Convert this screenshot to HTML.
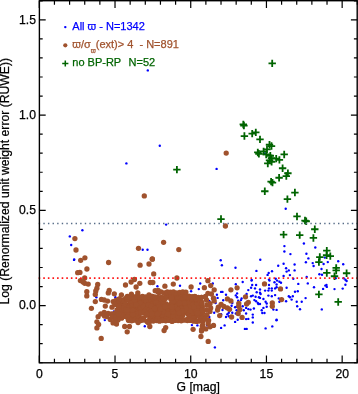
<!DOCTYPE html>
<html lang="en">
<head>
<meta charset="utf-8">
<title>RUWE vs G magnitude</title>
<style>
html,body{margin:0;padding:0;background:#fff}
svg{display:block;will-change:transform}
text{font-family:"Liberation Sans",Arial,sans-serif;font-size:12.2px;fill:#000;stroke:#000;stroke-width:0.25px}
</style>
</head>
<body>
<svg width="358" height="394" viewBox="0 0 358 394">
<rect width="358" height="394" fill="#fff"/>
<g fill="#0000ff"><circle cx="216.6" cy="168.9" r="1.2"/><circle cx="147.8" cy="70.4" r="1.2"/><circle cx="159.8" cy="145.8" r="1.2"/><circle cx="126.4" cy="163.4" r="1.2"/><circle cx="166.1" cy="224.6" r="1.2"/><circle cx="285.7" cy="208.7" r="1.2"/><circle cx="264.8" cy="153.4" r="1.2"/><circle cx="303.9" cy="243.5" r="1.2"/><circle cx="315.3" cy="247.5" r="1.2"/><circle cx="306.4" cy="253.7" r="1.2"/><circle cx="308.4" cy="258.4" r="1.2"/><circle cx="305.9" cy="262.3" r="1.2"/><circle cx="312.7" cy="263.1" r="1.2"/><circle cx="313.6" cy="266.0" r="1.2"/><circle cx="323.6" cy="264.0" r="1.2"/><circle cx="327.8" cy="262.1" r="1.2"/><circle cx="324.8" cy="257.6" r="1.2"/><circle cx="338.2" cy="261.3" r="1.2"/><circle cx="343.2" cy="264.3" r="1.2"/><circle cx="321.5" cy="269.0" r="1.2"/><circle cx="319.4" cy="274.3" r="1.2"/><circle cx="322.0" cy="274.7" r="1.2"/><circle cx="306.7" cy="276.9" r="1.2"/><circle cx="323.1" cy="288.9" r="1.2"/><circle cx="325.3" cy="285.6" r="1.2"/><circle cx="326.5" cy="284.9" r="1.2"/><circle cx="326.8" cy="286.9" r="1.2"/><circle cx="334.5" cy="289.1" r="1.2"/><circle cx="342.7" cy="288.6" r="1.2"/><circle cx="345.4" cy="284.7" r="1.2"/><circle cx="346.6" cy="281.0" r="1.2"/><circle cx="345.4" cy="279.7" r="1.2"/><circle cx="343.6" cy="278.2" r="1.2"/><circle cx="335.7" cy="278.2" r="1.2"/><circle cx="321.8" cy="309.4" r="1.2"/><circle cx="284.4" cy="246.1" r="1.2"/><circle cx="284.4" cy="251.5" r="1.2"/><circle cx="290.4" cy="254.1" r="1.2"/><circle cx="260.3" cy="259.8" r="1.2"/><circle cx="283.6" cy="263.7" r="1.2"/><circle cx="278.2" cy="265.7" r="1.2"/><circle cx="294.6" cy="264.5" r="1.2"/><circle cx="286.1" cy="268.2" r="1.2"/><circle cx="294.6" cy="270.4" r="1.2"/><circle cx="288.8" cy="270.4" r="1.2"/><circle cx="286.6" cy="271.6" r="1.2"/><circle cx="256.4" cy="270.9" r="1.2"/><circle cx="272.0" cy="271.2" r="1.2"/><circle cx="268.7" cy="272.9" r="1.2"/><circle cx="267.6" cy="274.9" r="1.2"/><circle cx="289.9" cy="275.1" r="1.2"/><circle cx="283.6" cy="275.9" r="1.2"/><circle cx="293.3" cy="278.8" r="1.2"/><circle cx="275.7" cy="278.8" r="1.2"/><circle cx="269.0" cy="279.6" r="1.2"/><circle cx="251.7" cy="279.9" r="1.2"/><circle cx="272.3" cy="326.4" r="1.2"/><circle cx="265.6" cy="328.4" r="1.2"/><circle cx="246.7" cy="328.9" r="1.2"/><circle cx="220.7" cy="260.2" r="1.2"/><circle cx="221.9" cy="265.2" r="1.2"/><circle cx="235.5" cy="267.7" r="1.2"/><circle cx="180.0" cy="285.8" r="1.2"/><circle cx="183.9" cy="291.2" r="1.2"/><circle cx="191.1" cy="291.2" r="1.2"/><circle cx="214.9" cy="347.4" r="1.2"/><circle cx="191.9" cy="325.1" r="1.2"/><circle cx="157.4" cy="286.2" r="1.2"/><circle cx="144.8" cy="326.3" r="1.2"/><circle cx="74.2" cy="259.4" r="1.2"/><circle cx="82.4" cy="230.2" r="1.2"/><circle cx="69.8" cy="236.4" r="1.2"/><circle cx="71.2" cy="245.0" r="1.2"/><circle cx="74.0" cy="259.9" r="1.2"/><circle cx="142.7" cy="249.8" r="1.2"/><circle cx="147.5" cy="249.8" r="1.2"/><circle cx="200.2" cy="283.5" r="1.2"/><circle cx="198.8" cy="289.1" r="1.2"/><circle cx="212.8" cy="283.5" r="1.2"/><circle cx="235.8" cy="284.2" r="1.2"/><circle cx="221.1" cy="291.9" r="1.2"/><circle cx="222.5" cy="291.9" r="1.2"/><circle cx="216.9" cy="294.7" r="1.2"/><circle cx="226" cy="294.7" r="1.2"/><circle cx="217.6" cy="297.9" r="1.2"/><circle cx="209.3" cy="300.9" r="1.2"/><circle cx="223.2" cy="300.3" r="1.2"/><circle cx="235.8" cy="295.4" r="1.2"/><circle cx="215.6" cy="303" r="1.2"/><circle cx="232.3" cy="303" r="1.2"/><circle cx="231.6" cy="305.8" r="1.2"/><circle cx="235.1" cy="307.2" r="1.2"/><circle cx="222.5" cy="310" r="1.2"/><circle cx="214.2" cy="312.8" r="1.2"/><circle cx="205.8" cy="310" r="1.2"/><circle cx="229.5" cy="310.7" r="1.2"/><circle cx="228.8" cy="312.8" r="1.2"/><circle cx="227.4" cy="314.2" r="1.2"/><circle cx="226" cy="317" r="1.2"/><circle cx="228.8" cy="316.3" r="1.2"/><circle cx="232.3" cy="312.8" r="1.2"/><circle cx="235.8" cy="313.5" r="1.2"/><circle cx="221.1" cy="314.2" r="1.2"/><circle cx="209.3" cy="317" r="1.2"/><circle cx="235.1" cy="321.9" r="1.2"/><circle cx="224.6" cy="325.4" r="1.2"/><circle cx="221.1" cy="327.9" r="1.2"/><circle cx="244.9" cy="328.9" r="1.2"/><circle cx="197.4" cy="325.4" r="1.2"/><circle cx="207.2" cy="325.4" r="1.2"/><circle cx="96.4" cy="297.2" r="1.2"/><circle cx="115.4" cy="297.2" r="1.2"/><circle cx="104.8" cy="320.1" r="1.2"/><circle cx="113.9" cy="311.5" r="1.2"/><circle cx="242.7" cy="282" r="1.2"/><circle cx="251.6" cy="280.6" r="1.2"/><circle cx="269.5" cy="280.6" r="1.2"/><circle cx="274.5" cy="282.2" r="1.2"/><circle cx="252.2" cy="285" r="1.2"/><circle cx="256.1" cy="285" r="1.2"/><circle cx="269" cy="285" r="1.2"/><circle cx="251.1" cy="287.8" r="1.2"/><circle cx="255" cy="288.4" r="1.2"/><circle cx="248.3" cy="290.1" r="1.2"/><circle cx="260" cy="289.5" r="1.2"/><circle cx="265.1" cy="290.6" r="1.2"/><circle cx="269" cy="288.4" r="1.2"/><circle cx="271.8" cy="288.4" r="1.2"/><circle cx="275.1" cy="288.4" r="1.2"/><circle cx="268.4" cy="290.6" r="1.2"/><circle cx="271.8" cy="290.6" r="1.2"/><circle cx="256.7" cy="292.3" r="1.2"/><circle cx="260" cy="292.8" r="1.2"/><circle cx="260.6" cy="294" r="1.2"/><circle cx="237.1" cy="293.4" r="1.2"/><circle cx="246.6" cy="294" r="1.2"/><circle cx="251.1" cy="296.2" r="1.2"/><circle cx="252.8" cy="295.6" r="1.2"/><circle cx="255.6" cy="296.8" r="1.2"/><circle cx="258.9" cy="297.3" r="1.2"/><circle cx="260" cy="297.9" r="1.2"/><circle cx="268.4" cy="295.6" r="1.2"/><circle cx="271.8" cy="296.2" r="1.2"/><circle cx="275.1" cy="295.1" r="1.2"/><circle cx="237.1" cy="297.3" r="1.2"/><circle cx="241.6" cy="298.4" r="1.2"/><circle cx="263.4" cy="299" r="1.2"/><circle cx="254.4" cy="300.1" r="1.2"/><circle cx="256.1" cy="301.2" r="1.2"/><circle cx="238.2" cy="300.7" r="1.2"/><circle cx="241" cy="300.1" r="1.2"/><circle cx="265.6" cy="301.8" r="1.2"/><circle cx="266.7" cy="303.5" r="1.2"/><circle cx="257.8" cy="302.9" r="1.2"/><circle cx="258.3" cy="304" r="1.2"/><circle cx="260" cy="304" r="1.2"/><circle cx="242.7" cy="306.3" r="1.2"/><circle cx="236.6" cy="306.8" r="1.2"/><circle cx="246.1" cy="307.9" r="1.2"/><circle cx="248.3" cy="309.1" r="1.2"/><circle cx="250.5" cy="309.6" r="1.2"/><circle cx="253.9" cy="308.5" r="1.2"/><circle cx="263.4" cy="307.9" r="1.2"/><circle cx="266.7" cy="306.8" r="1.2"/><circle cx="261.7" cy="310.2" r="1.2"/><circle cx="273.4" cy="309.6" r="1.2"/><circle cx="243.8" cy="310.2" r="1.2"/><circle cx="236.6" cy="310.2" r="1.2"/><circle cx="262.3" cy="313" r="1.2"/><circle cx="264.5" cy="313" r="1.2"/><circle cx="246.1" cy="313.5" r="1.2"/><circle cx="252.8" cy="314.6" r="1.2"/><circle cx="252.8" cy="317.4" r="1.2"/><circle cx="246.1" cy="319.1" r="1.2"/><circle cx="248.3" cy="318.9" r="1.2"/><circle cx="237.7" cy="319.7" r="1.2"/><circle cx="252.8" cy="322.5" r="1.2"/><circle cx="277.1" cy="280.6" r="1.2"/><circle cx="279.4" cy="281.7" r="1.2"/><circle cx="281" cy="282.8" r="1.2"/><circle cx="276.6" cy="284.5" r="1.2"/><circle cx="276.6" cy="287.3" r="1.2"/><circle cx="286.6" cy="287.8" r="1.2"/><circle cx="298.3" cy="283.9" r="1.2"/><circle cx="307.8" cy="283.4" r="1.2"/><circle cx="314" cy="287.3" r="1.2"/><circle cx="297.8" cy="291.2" r="1.2"/><circle cx="295" cy="291.7" r="1.2"/><circle cx="288.8" cy="296.2" r="1.2"/><circle cx="292.8" cy="296.2" r="1.2"/><circle cx="290" cy="297.3" r="1.2"/><circle cx="291.6" cy="299.6" r="1.2"/><circle cx="305.6" cy="298.1" r="1.2"/><circle cx="286.1" cy="301.2" r="1.2"/><circle cx="279.4" cy="301.8" r="1.2"/><circle cx="278.8" cy="298.4" r="1.2"/><circle cx="296.7" cy="301.8" r="1.2"/><circle cx="301.7" cy="301.8" r="1.2"/><circle cx="297.2" cy="306.3" r="1.2"/><circle cx="300" cy="309.3" r="1.2"/><circle cx="276.6" cy="309.9" r="1.2"/><circle cx="276.6" cy="319.7" r="1.2"/><circle cx="276.5" cy="320.2" r="1.2"/></g>
<g fill="#a0522d"><circle cx="146.4" cy="312.9" r="2.65"/><circle cx="125.1" cy="315.2" r="2.65"/><circle cx="164.3" cy="305.4" r="2.65"/><circle cx="161.9" cy="308.8" r="2.65"/><circle cx="122.2" cy="304.6" r="2.65"/><circle cx="126.7" cy="308.1" r="2.65"/><circle cx="154.9" cy="308.7" r="2.65"/><circle cx="137.9" cy="303.8" r="2.65"/><circle cx="172.0" cy="315.7" r="2.65"/><circle cx="152.5" cy="304.0" r="2.65"/><circle cx="201.5" cy="320.3" r="2.65"/><circle cx="143.5" cy="311.0" r="2.65"/><circle cx="131.2" cy="311.4" r="2.65"/><circle cx="188.0" cy="311.1" r="2.65"/><circle cx="134.3" cy="298.3" r="2.65"/><circle cx="150.5" cy="302.1" r="2.65"/><circle cx="165.3" cy="309.3" r="2.65"/><circle cx="136.4" cy="307.9" r="2.65"/><circle cx="176.5" cy="301.5" r="2.65"/><circle cx="168.5" cy="309.7" r="2.65"/><circle cx="157.3" cy="303.2" r="2.65"/><circle cx="178.1" cy="318.8" r="2.65"/><circle cx="139.6" cy="299.4" r="2.65"/><circle cx="192.9" cy="303.1" r="2.65"/><circle cx="180.6" cy="302.4" r="2.65"/><circle cx="154.3" cy="307.2" r="2.65"/><circle cx="160.3" cy="303.0" r="2.65"/><circle cx="122.3" cy="301.1" r="2.65"/><circle cx="167.4" cy="296.6" r="2.65"/><circle cx="193.0" cy="302.8" r="2.65"/><circle cx="169.2" cy="316.9" r="2.65"/><circle cx="168.0" cy="294.1" r="2.65"/><circle cx="198.8" cy="310.6" r="2.65"/><circle cx="159.1" cy="305.7" r="2.65"/><circle cx="178.3" cy="304.9" r="2.65"/><circle cx="173.7" cy="320.0" r="2.65"/><circle cx="143.0" cy="306.4" r="2.65"/><circle cx="151.6" cy="306.3" r="2.65"/><circle cx="158.0" cy="305.7" r="2.65"/><circle cx="133.2" cy="308.8" r="2.65"/><circle cx="183.9" cy="308.6" r="2.65"/><circle cx="129.9" cy="307.1" r="2.65"/><circle cx="192.6" cy="314.0" r="2.65"/><circle cx="125.8" cy="298.6" r="2.65"/><circle cx="193.6" cy="309.8" r="2.65"/><circle cx="188.2" cy="310.7" r="2.65"/><circle cx="154.1" cy="302.7" r="2.65"/><circle cx="149.3" cy="320.1" r="2.65"/><circle cx="133.9" cy="307.6" r="2.65"/><circle cx="160.0" cy="312.1" r="2.65"/><circle cx="168.8" cy="306.9" r="2.65"/><circle cx="154.4" cy="307.6" r="2.65"/><circle cx="177.3" cy="300.0" r="2.65"/><circle cx="162.6" cy="299.2" r="2.65"/><circle cx="123.6" cy="299.9" r="2.65"/><circle cx="195.0" cy="309.7" r="2.65"/><circle cx="152.2" cy="304.4" r="2.65"/><circle cx="172.6" cy="308.9" r="2.65"/><circle cx="124.3" cy="311.4" r="2.65"/><circle cx="132.7" cy="309.0" r="2.65"/><circle cx="147.7" cy="307.1" r="2.65"/><circle cx="131.8" cy="307.0" r="2.65"/><circle cx="127.6" cy="306.0" r="2.65"/><circle cx="192.9" cy="308.2" r="2.65"/><circle cx="170.9" cy="310.2" r="2.65"/><circle cx="148.4" cy="311.3" r="2.65"/><circle cx="149.8" cy="316.8" r="2.65"/><circle cx="202.9" cy="316.5" r="2.65"/><circle cx="158.4" cy="304.0" r="2.65"/><circle cx="127.6" cy="307.3" r="2.65"/><circle cx="148.0" cy="305.8" r="2.65"/><circle cx="132.6" cy="320.1" r="2.65"/><circle cx="121.0" cy="315.2" r="2.65"/><circle cx="131.4" cy="304.4" r="2.65"/><circle cx="164.9" cy="315.5" r="2.65"/><circle cx="201.7" cy="308.5" r="2.65"/><circle cx="192.0" cy="305.2" r="2.65"/><circle cx="150.0" cy="301.9" r="2.65"/><circle cx="133.1" cy="308.2" r="2.65"/><circle cx="184.8" cy="298.4" r="2.65"/><circle cx="146.9" cy="309.2" r="2.65"/><circle cx="202.2" cy="319.6" r="2.65"/><circle cx="191.0" cy="311.5" r="2.65"/><circle cx="181.5" cy="294.9" r="2.65"/><circle cx="138.2" cy="300.5" r="2.65"/><circle cx="121.4" cy="306.3" r="2.65"/><circle cx="121.4" cy="306.0" r="2.65"/><circle cx="177.5" cy="312.3" r="2.65"/><circle cx="202.5" cy="312.4" r="2.65"/><circle cx="199.7" cy="303.7" r="2.65"/><circle cx="138.2" cy="310.7" r="2.65"/><circle cx="135.6" cy="309.8" r="2.65"/><circle cx="195.1" cy="316.4" r="2.65"/><circle cx="190.0" cy="296.9" r="2.65"/><circle cx="186.6" cy="308.3" r="2.65"/><circle cx="126.2" cy="298.8" r="2.65"/><circle cx="185.1" cy="294.0" r="2.65"/><circle cx="182.4" cy="302.7" r="2.65"/><circle cx="185.7" cy="307.6" r="2.65"/><circle cx="147.1" cy="312.9" r="2.65"/><circle cx="152.9" cy="317.6" r="2.65"/><circle cx="133.4" cy="303.3" r="2.65"/><circle cx="129.7" cy="315.8" r="2.65"/><circle cx="187.1" cy="319.3" r="2.65"/><circle cx="131.4" cy="316.1" r="2.65"/><circle cx="148.6" cy="303.5" r="2.65"/><circle cx="120.2" cy="305.9" r="2.65"/><circle cx="201.0" cy="302.0" r="2.65"/><circle cx="197.9" cy="300.1" r="2.65"/><circle cx="155.7" cy="316.1" r="2.65"/><circle cx="136.8" cy="297.6" r="2.65"/><circle cx="140.3" cy="305.6" r="2.65"/><circle cx="168.6" cy="312.0" r="2.65"/><circle cx="140.9" cy="303.8" r="2.65"/><circle cx="195.9" cy="308.8" r="2.65"/><circle cx="148.9" cy="298.1" r="2.65"/><circle cx="195.4" cy="309.4" r="2.65"/><circle cx="154.5" cy="314.2" r="2.65"/><circle cx="163.9" cy="302.9" r="2.65"/><circle cx="163.2" cy="314.5" r="2.65"/><circle cx="134.5" cy="307.9" r="2.65"/><circle cx="119.3" cy="308.3" r="2.65"/><circle cx="159.0" cy="302.9" r="2.65"/><circle cx="180.3" cy="301.2" r="2.65"/><circle cx="162.8" cy="304.8" r="2.65"/><circle cx="165.9" cy="307.7" r="2.65"/><circle cx="166.3" cy="303.8" r="2.65"/><circle cx="140.0" cy="305.0" r="2.65"/><circle cx="161.9" cy="318.9" r="2.65"/><circle cx="166.5" cy="308.0" r="2.65"/><circle cx="170.8" cy="298.6" r="2.65"/><circle cx="177.5" cy="306.7" r="2.65"/><circle cx="157.2" cy="299.2" r="2.65"/><circle cx="198.6" cy="305.3" r="2.65"/><circle cx="178.1" cy="318.9" r="2.65"/><circle cx="166.3" cy="319.6" r="2.65"/><circle cx="130.6" cy="302.3" r="2.65"/><circle cx="129.3" cy="304.5" r="2.65"/><circle cx="139.3" cy="308.0" r="2.65"/><circle cx="125.2" cy="301.1" r="2.65"/><circle cx="194.8" cy="296.3" r="2.65"/><circle cx="132.1" cy="304.8" r="2.65"/><circle cx="131.1" cy="296.9" r="2.65"/><circle cx="193.6" cy="311.8" r="2.65"/><circle cx="199.5" cy="306.0" r="2.65"/><circle cx="189.3" cy="308.7" r="2.65"/><circle cx="132.6" cy="299.3" r="2.65"/><circle cx="147.7" cy="310.5" r="2.65"/><circle cx="135.5" cy="302.3" r="2.65"/><circle cx="120.6" cy="317.2" r="2.65"/><circle cx="165.8" cy="305.8" r="2.65"/><circle cx="147.0" cy="307.5" r="2.65"/><circle cx="171.7" cy="304.5" r="2.65"/><circle cx="202.2" cy="306.8" r="2.65"/><circle cx="185.6" cy="310.2" r="2.65"/><circle cx="141.4" cy="306.4" r="2.65"/><circle cx="122.3" cy="308.0" r="2.65"/><circle cx="129.9" cy="301.5" r="2.65"/><circle cx="154.7" cy="318.0" r="2.65"/><circle cx="140.9" cy="300.2" r="2.65"/><circle cx="131.6" cy="315.0" r="2.65"/><circle cx="178.2" cy="302.6" r="2.65"/><circle cx="126.6" cy="317.0" r="2.65"/><circle cx="154.9" cy="310.8" r="2.65"/><circle cx="125.1" cy="316.2" r="2.65"/><circle cx="186.7" cy="303.2" r="2.65"/><circle cx="126.1" cy="308.6" r="2.65"/><circle cx="191.9" cy="305.0" r="2.65"/><circle cx="157.3" cy="302.3" r="2.65"/><circle cx="197.3" cy="314.5" r="2.65"/><circle cx="141.6" cy="312.9" r="2.65"/><circle cx="139.1" cy="313.2" r="2.65"/><circle cx="128.2" cy="308.2" r="2.65"/><circle cx="136.0" cy="308.9" r="2.65"/><circle cx="145.4" cy="303.0" r="2.65"/><circle cx="143.5" cy="318.1" r="2.65"/><circle cx="161.3" cy="309.8" r="2.65"/><circle cx="120.5" cy="312.8" r="2.65"/><circle cx="140.2" cy="318.3" r="2.65"/><circle cx="165.6" cy="308.1" r="2.65"/><circle cx="128.0" cy="309.6" r="2.65"/><circle cx="188.2" cy="299.5" r="2.65"/><circle cx="189.5" cy="310.4" r="2.65"/><circle cx="152.2" cy="296.3" r="2.65"/><circle cx="202.0" cy="306.6" r="2.65"/><circle cx="148.0" cy="312.4" r="2.65"/><circle cx="172.7" cy="297.5" r="2.65"/><circle cx="153.2" cy="305.7" r="2.65"/><circle cx="130.0" cy="308.9" r="2.65"/><circle cx="125.0" cy="306.7" r="2.65"/><circle cx="132.8" cy="301.6" r="2.65"/><circle cx="126.1" cy="314.7" r="2.65"/><circle cx="175.7" cy="295.1" r="2.65"/><circle cx="142.8" cy="307.3" r="2.65"/><circle cx="157.8" cy="312.8" r="2.65"/><circle cx="132.3" cy="301.8" r="2.65"/><circle cx="200.3" cy="308.8" r="2.65"/><circle cx="201.2" cy="302.0" r="2.65"/><circle cx="200.6" cy="305.5" r="2.65"/><circle cx="145.2" cy="306.8" r="2.65"/><circle cx="151.2" cy="307.3" r="2.65"/><circle cx="159.1" cy="302.3" r="2.65"/><circle cx="161.7" cy="306.9" r="2.65"/><circle cx="119.4" cy="306.7" r="2.65"/><circle cx="152.8" cy="310.0" r="2.65"/><circle cx="122.5" cy="312.9" r="2.65"/><circle cx="138.7" cy="307.8" r="2.65"/><circle cx="168.5" cy="295.5" r="2.65"/><circle cx="174.6" cy="304.9" r="2.65"/><circle cx="179.5" cy="312.0" r="2.65"/><circle cx="146.6" cy="302.2" r="2.65"/><circle cx="202.2" cy="313.6" r="2.65"/><circle cx="173.4" cy="316.1" r="2.65"/><circle cx="122.7" cy="314.5" r="2.65"/><circle cx="172.0" cy="294.3" r="2.65"/><circle cx="181.0" cy="308.5" r="2.65"/><circle cx="163.3" cy="303.5" r="2.65"/><circle cx="161.6" cy="313.4" r="2.65"/><circle cx="188.8" cy="296.1" r="2.65"/><circle cx="168.4" cy="315.3" r="2.65"/><circle cx="177.6" cy="300.4" r="2.65"/><circle cx="138.4" cy="310.7" r="2.65"/><circle cx="149.5" cy="307.7" r="2.65"/><circle cx="127.9" cy="311.6" r="2.65"/><circle cx="172.0" cy="299.3" r="2.65"/><circle cx="171.9" cy="303.6" r="2.65"/><circle cx="119.3" cy="299.6" r="2.65"/><circle cx="186.4" cy="306.9" r="2.65"/><circle cx="164.2" cy="298.7" r="2.65"/><circle cx="174.7" cy="317.5" r="2.65"/><circle cx="140.3" cy="311.6" r="2.65"/><circle cx="125.3" cy="305.9" r="2.65"/><circle cx="136.3" cy="318.3" r="2.65"/><circle cx="181.5" cy="315.1" r="2.65"/><circle cx="151.3" cy="305.8" r="2.65"/><circle cx="159.5" cy="302.2" r="2.65"/><circle cx="171.1" cy="296.1" r="2.65"/><circle cx="173.3" cy="310.5" r="2.65"/><circle cx="140.5" cy="308.8" r="2.65"/><circle cx="181.8" cy="304.0" r="2.65"/><circle cx="120.1" cy="315.5" r="2.65"/><circle cx="124.1" cy="305.8" r="2.65"/><circle cx="177.5" cy="317.4" r="2.65"/><circle cx="176.1" cy="304.9" r="2.65"/><circle cx="158.3" cy="315.2" r="2.65"/><circle cx="158.4" cy="317.9" r="2.65"/><circle cx="135.8" cy="317.0" r="2.65"/><circle cx="201.7" cy="308.2" r="2.65"/><circle cx="157.8" cy="306.5" r="2.65"/><circle cx="188.3" cy="314.5" r="2.65"/><circle cx="141.7" cy="305.5" r="2.65"/><circle cx="136.7" cy="311.5" r="2.65"/><circle cx="168.1" cy="305.4" r="2.65"/><circle cx="130.2" cy="304.4" r="2.65"/><circle cx="178.4" cy="306.2" r="2.65"/><circle cx="138.6" cy="313.5" r="2.65"/><circle cx="121.1" cy="302.2" r="2.65"/><circle cx="119.3" cy="299.3" r="2.65"/><circle cx="144.5" cy="307.4" r="2.65"/><circle cx="130.9" cy="303.6" r="2.65"/><circle cx="190.0" cy="312.1" r="2.65"/><circle cx="119.1" cy="307.1" r="2.65"/><circle cx="197.3" cy="303.5" r="2.65"/><circle cx="149.5" cy="301.9" r="2.65"/><circle cx="123.1" cy="309.5" r="2.65"/><circle cx="127.6" cy="309.9" r="2.65"/><circle cx="198.1" cy="302.1" r="2.65"/><circle cx="140.1" cy="306.2" r="2.65"/><circle cx="135.0" cy="315.3" r="2.65"/><circle cx="150.5" cy="321.0" r="2.65"/><circle cx="187.6" cy="303.0" r="2.65"/><circle cx="172.3" cy="321.2" r="2.65"/><circle cx="165.4" cy="298.4" r="2.65"/><circle cx="179.8" cy="317.8" r="2.65"/><circle cx="157.1" cy="310.5" r="2.65"/><circle cx="182.6" cy="303.5" r="2.65"/><circle cx="123.1" cy="302.5" r="2.65"/><circle cx="197.3" cy="312.5" r="2.65"/><circle cx="148.0" cy="312.7" r="2.65"/><circle cx="144.2" cy="305.7" r="2.65"/><circle cx="174.4" cy="304.2" r="2.65"/><circle cx="152.3" cy="315.5" r="2.65"/><circle cx="133.1" cy="309.5" r="2.65"/><circle cx="195.6" cy="311.1" r="2.65"/><circle cx="161.0" cy="309.9" r="2.65"/><circle cx="157.0" cy="309.9" r="2.65"/><circle cx="126.7" cy="310.5" r="2.65"/><circle cx="147.9" cy="311.4" r="2.65"/><circle cx="140.8" cy="309.8" r="2.65"/><circle cx="167.1" cy="315.8" r="2.65"/><circle cx="153.9" cy="299.4" r="2.65"/><circle cx="154.0" cy="300.3" r="2.65"/><circle cx="147.6" cy="306.0" r="2.65"/><circle cx="124.2" cy="303.8" r="2.65"/><circle cx="161.5" cy="297.4" r="2.65"/><circle cx="137.2" cy="296.9" r="2.65"/><circle cx="141.9" cy="307.1" r="2.65"/><circle cx="156.7" cy="314.1" r="2.65"/><circle cx="199.6" cy="315.3" r="2.65"/><circle cx="121.7" cy="303.3" r="2.65"/><circle cx="159.0" cy="292.6" r="2.65"/><circle cx="168.6" cy="314.0" r="2.65"/><circle cx="197.3" cy="307.0" r="2.65"/><circle cx="188.8" cy="318.5" r="2.65"/><circle cx="128.2" cy="311.8" r="2.65"/><circle cx="176.6" cy="314.0" r="2.65"/><circle cx="198.6" cy="305.2" r="2.65"/><circle cx="183.6" cy="297.1" r="2.65"/><circle cx="157.6" cy="305.1" r="2.65"/><circle cx="185.1" cy="306.4" r="2.65"/><circle cx="138.7" cy="315.8" r="2.65"/><circle cx="144.7" cy="302.1" r="2.65"/><circle cx="129.8" cy="306.9" r="2.65"/><circle cx="178.0" cy="317.0" r="2.65"/><circle cx="128.5" cy="314.7" r="2.65"/><circle cx="168.3" cy="310.7" r="2.65"/><circle cx="151.8" cy="308.6" r="2.65"/><circle cx="119.9" cy="316.4" r="2.65"/><circle cx="173.5" cy="311.3" r="2.65"/><circle cx="193.7" cy="301.9" r="2.65"/><circle cx="139.9" cy="307.8" r="2.65"/><circle cx="200.2" cy="305.3" r="2.65"/><circle cx="120.8" cy="301.2" r="2.65"/><circle cx="161.1" cy="303.7" r="2.65"/><circle cx="140.7" cy="300.5" r="2.65"/><circle cx="175.4" cy="311.5" r="2.65"/><circle cx="121.9" cy="304.7" r="2.65"/><circle cx="147.6" cy="297.7" r="2.65"/><circle cx="135.7" cy="312.1" r="2.65"/><circle cx="186.4" cy="306.4" r="2.65"/><circle cx="136.3" cy="298.7" r="2.65"/><circle cx="201.0" cy="302.1" r="2.65"/><circle cx="138.5" cy="319.0" r="2.65"/><circle cx="137.7" cy="307.4" r="2.65"/><circle cx="199.4" cy="301.2" r="2.65"/><circle cx="160.9" cy="308.9" r="2.65"/><circle cx="154.2" cy="311.6" r="2.65"/><circle cx="175.2" cy="310.7" r="2.65"/><circle cx="152.2" cy="305.8" r="2.65"/><circle cx="137.0" cy="310.8" r="2.65"/><circle cx="123.4" cy="306.4" r="2.65"/><circle cx="193.7" cy="316.3" r="2.65"/><circle cx="146.8" cy="306.7" r="2.65"/><circle cx="134.7" cy="317.7" r="2.65"/><circle cx="121.7" cy="302.5" r="2.65"/><circle cx="175.1" cy="302.1" r="2.65"/><circle cx="147.0" cy="311.7" r="2.65"/><circle cx="133.3" cy="312.7" r="2.65"/><circle cx="148.7" cy="307.1" r="2.65"/><circle cx="199.7" cy="319.9" r="2.65"/><circle cx="136.5" cy="319.7" r="2.65"/><circle cx="149.1" cy="312.7" r="2.65"/><circle cx="123.2" cy="300.3" r="2.65"/><circle cx="196.7" cy="308.1" r="2.65"/><circle cx="135.3" cy="297.2" r="2.65"/><circle cx="121.6" cy="318.2" r="2.65"/><circle cx="153.7" cy="311.5" r="2.65"/><circle cx="140.7" cy="313.0" r="2.65"/><circle cx="182.1" cy="312.1" r="2.65"/><circle cx="142.0" cy="303.2" r="2.65"/><circle cx="199.9" cy="303.0" r="2.65"/><circle cx="179.6" cy="303.3" r="2.65"/><circle cx="145.7" cy="306.9" r="2.65"/><circle cx="182.9" cy="307.6" r="2.65"/><circle cx="199.6" cy="309.7" r="2.65"/><circle cx="151.7" cy="307.0" r="2.65"/><circle cx="160.7" cy="314.4" r="2.65"/><circle cx="197.4" cy="312.2" r="2.65"/><circle cx="181.4" cy="318.5" r="2.65"/><circle cx="188.5" cy="308.4" r="2.65"/><circle cx="146.7" cy="297.5" r="2.65"/><circle cx="146.0" cy="299.1" r="2.65"/><circle cx="125.7" cy="316.3" r="2.65"/><circle cx="135.7" cy="307.1" r="2.65"/><circle cx="124.5" cy="301.7" r="2.65"/><circle cx="121.9" cy="301.1" r="2.65"/><circle cx="201.8" cy="305.0" r="2.65"/><circle cx="193.7" cy="312.5" r="2.65"/><circle cx="126.1" cy="306.6" r="2.65"/><circle cx="156.8" cy="307.1" r="2.65"/><circle cx="138.8" cy="298.6" r="2.65"/><circle cx="176.0" cy="311.9" r="2.65"/><circle cx="182.2" cy="312.9" r="2.65"/><circle cx="129.2" cy="298.5" r="2.65"/><circle cx="190.1" cy="304.5" r="2.65"/><circle cx="150.5" cy="315.7" r="2.65"/><circle cx="181.4" cy="308.7" r="2.65"/><circle cx="139.7" cy="312.0" r="2.65"/><circle cx="132.0" cy="313.9" r="2.65"/><circle cx="146.6" cy="300.9" r="2.65"/><circle cx="152.5" cy="315.3" r="2.65"/><circle cx="138.6" cy="306.6" r="2.65"/><circle cx="159.1" cy="312.6" r="2.65"/><circle cx="122.4" cy="306.0" r="2.65"/><circle cx="135.0" cy="310.4" r="2.65"/><circle cx="150.5" cy="298.9" r="2.65"/><circle cx="192.2" cy="301.8" r="2.65"/><circle cx="184.7" cy="308.7" r="2.65"/><circle cx="198.9" cy="314.4" r="2.65"/><circle cx="171.4" cy="312.8" r="2.65"/><circle cx="137.4" cy="304.4" r="2.65"/><circle cx="136.2" cy="309.8" r="2.65"/><circle cx="140.5" cy="298.8" r="2.65"/><circle cx="136.2" cy="301.1" r="2.65"/><circle cx="120.0" cy="302.1" r="2.65"/><circle cx="134.6" cy="316.3" r="2.65"/><circle cx="145.4" cy="310.6" r="2.65"/><circle cx="165.3" cy="318.9" r="2.65"/><circle cx="124.3" cy="312.6" r="2.65"/><circle cx="165.5" cy="311.2" r="2.65"/><circle cx="173.0" cy="310.5" r="2.65"/><circle cx="177.8" cy="309.3" r="2.65"/><circle cx="153.6" cy="305.8" r="2.65"/><circle cx="199.5" cy="312.9" r="2.65"/><circle cx="145.4" cy="301.0" r="2.65"/><circle cx="154.2" cy="304.3" r="2.65"/><circle cx="192.0" cy="313.7" r="2.65"/><circle cx="135.7" cy="306.9" r="2.65"/><circle cx="180.5" cy="307.2" r="2.65"/><circle cx="195.2" cy="307.7" r="2.65"/><circle cx="154.8" cy="310.1" r="2.65"/><circle cx="193.6" cy="300.5" r="2.65"/><circle cx="157.9" cy="307.6" r="2.65"/><circle cx="165.6" cy="308.0" r="2.65"/><circle cx="173.1" cy="309.6" r="2.65"/><circle cx="171.6" cy="305.4" r="2.65"/><circle cx="150.3" cy="303.1" r="2.65"/><circle cx="142.9" cy="306.9" r="2.65"/><circle cx="163.0" cy="310.0" r="2.65"/><circle cx="160.4" cy="305.5" r="2.65"/><circle cx="187.0" cy="311.5" r="2.65"/><circle cx="129.7" cy="306.0" r="2.65"/><circle cx="198.7" cy="314.9" r="2.65"/><circle cx="123.5" cy="305.8" r="2.65"/><circle cx="171.4" cy="316.8" r="2.65"/><circle cx="188.7" cy="313.6" r="2.65"/><circle cx="137.8" cy="317.4" r="2.65"/><circle cx="153.2" cy="314.5" r="2.65"/><circle cx="137.4" cy="300.2" r="2.65"/><circle cx="151.4" cy="312.0" r="2.65"/><circle cx="129.4" cy="307.2" r="2.65"/><circle cx="194.8" cy="318.2" r="2.65"/><circle cx="122.2" cy="302.5" r="2.65"/><circle cx="189.8" cy="314.0" r="2.65"/><circle cx="165.5" cy="313.4" r="2.65"/><circle cx="172.0" cy="304.5" r="2.65"/><circle cx="168.2" cy="313.9" r="2.65"/><circle cx="155.0" cy="302.9" r="2.65"/><circle cx="156.0" cy="300.6" r="2.65"/><circle cx="121.0" cy="301.0" r="2.65"/><circle cx="138.9" cy="301.5" r="2.65"/><circle cx="183.5" cy="308.5" r="2.65"/><circle cx="134.2" cy="299.4" r="2.65"/><circle cx="159.0" cy="309.9" r="2.65"/><circle cx="155.4" cy="309.3" r="2.65"/><circle cx="126.7" cy="299.2" r="2.65"/><circle cx="122.4" cy="310.0" r="2.65"/><circle cx="172.8" cy="316.9" r="2.65"/><circle cx="184.7" cy="312.6" r="2.65"/><circle cx="162.2" cy="314.8" r="2.65"/><circle cx="150.9" cy="309.8" r="2.65"/><circle cx="199.3" cy="316.1" r="2.65"/><circle cx="203.2" cy="317.4" r="2.65"/><circle cx="180.9" cy="308.8" r="2.65"/><circle cx="202.0" cy="302.8" r="2.65"/><circle cx="133.0" cy="302.8" r="2.65"/><circle cx="185.6" cy="309.3" r="2.65"/><circle cx="148.7" cy="305.9" r="2.65"/><circle cx="182.9" cy="315.1" r="2.65"/><circle cx="142.2" cy="319.5" r="2.65"/><circle cx="187.9" cy="312.1" r="2.65"/><circle cx="196.7" cy="313.5" r="2.65"/><circle cx="136.6" cy="306.3" r="2.65"/><circle cx="146.0" cy="315.3" r="2.65"/><circle cx="122.1" cy="308.7" r="2.65"/><circle cx="198.1" cy="310.8" r="2.65"/><circle cx="176.4" cy="310.4" r="2.65"/><circle cx="185.3" cy="304.4" r="2.65"/><circle cx="128.7" cy="297.2" r="2.65"/><circle cx="149.4" cy="305.1" r="2.65"/><circle cx="192.8" cy="298.3" r="2.65"/><circle cx="193.6" cy="303.9" r="2.65"/><circle cx="127.8" cy="316.9" r="2.65"/><circle cx="152.3" cy="306.6" r="2.65"/><circle cx="186.4" cy="305.0" r="2.65"/><circle cx="149.4" cy="307.7" r="2.65"/><circle cx="133.9" cy="299.5" r="2.65"/><circle cx="181.8" cy="319.4" r="2.65"/><circle cx="140.4" cy="310.9" r="2.65"/><circle cx="173.0" cy="316.2" r="2.65"/><circle cx="175.1" cy="306.1" r="2.65"/><circle cx="145.4" cy="308.8" r="2.65"/><circle cx="131.6" cy="307.0" r="2.65"/><circle cx="171.1" cy="299.4" r="2.65"/><circle cx="194.7" cy="310.5" r="2.65"/><circle cx="130.2" cy="308.5" r="2.65"/><circle cx="120.9" cy="317.1" r="2.65"/><circle cx="119.2" cy="305.0" r="2.65"/><circle cx="149.2" cy="309.6" r="2.65"/><circle cx="137.9" cy="298.9" r="2.65"/><circle cx="136.3" cy="302.3" r="2.65"/><circle cx="171.7" cy="303.3" r="2.65"/><circle cx="198.1" cy="307.6" r="2.65"/><circle cx="139.6" cy="308.9" r="2.65"/><circle cx="172.9" cy="309.5" r="2.65"/><circle cx="192.6" cy="308.4" r="2.65"/><circle cx="141.3" cy="300.0" r="2.65"/><circle cx="120.0" cy="301.5" r="2.65"/><circle cx="148.6" cy="299.9" r="2.65"/><circle cx="181.0" cy="312.7" r="2.65"/><circle cx="140.0" cy="308.7" r="2.65"/><circle cx="163.9" cy="305.8" r="2.65"/><circle cx="153.3" cy="307.2" r="2.65"/><circle cx="184.8" cy="309.4" r="2.65"/><circle cx="131.0" cy="301.8" r="2.65"/><circle cx="135.9" cy="300.5" r="2.65"/><circle cx="173.2" cy="301.8" r="2.65"/><circle cx="187.7" cy="309.7" r="2.65"/><circle cx="144.4" cy="312.4" r="2.65"/><circle cx="123.1" cy="316.4" r="2.65"/><circle cx="179.5" cy="299.2" r="2.65"/><circle cx="119.5" cy="313.5" r="2.65"/><circle cx="158.3" cy="297.4" r="2.65"/><circle cx="181.7" cy="302.2" r="2.65"/><circle cx="127.9" cy="308.5" r="2.65"/><circle cx="138.6" cy="313.1" r="2.65"/><circle cx="182.3" cy="308.5" r="2.65"/><circle cx="177.7" cy="313.2" r="2.65"/><circle cx="141.5" cy="297.9" r="2.65"/><circle cx="165.8" cy="295.6" r="2.65"/><circle cx="163.2" cy="311.8" r="2.65"/><circle cx="193.4" cy="312.4" r="2.65"/><circle cx="139.0" cy="307.5" r="2.65"/><circle cx="181.9" cy="317.9" r="2.65"/><circle cx="146.6" cy="303.1" r="2.65"/><circle cx="193.4" cy="304.5" r="2.65"/><circle cx="195.7" cy="311.6" r="2.65"/><circle cx="172.3" cy="303.4" r="2.65"/><circle cx="201.7" cy="297.3" r="2.65"/><circle cx="158.7" cy="312.8" r="2.65"/><circle cx="191.5" cy="297.8" r="2.65"/><circle cx="155.9" cy="305.6" r="2.65"/><circle cx="145.0" cy="298.0" r="2.65"/><circle cx="136.9" cy="305.0" r="2.65"/><circle cx="196.0" cy="305.0" r="2.65"/><circle cx="131.2" cy="310.3" r="2.65"/><circle cx="197.5" cy="307.6" r="2.65"/><circle cx="148.1" cy="308.1" r="2.65"/><circle cx="122.5" cy="308.3" r="2.65"/><circle cx="177.5" cy="299.8" r="2.65"/><circle cx="181.3" cy="298.9" r="2.65"/><circle cx="124.6" cy="301.4" r="2.65"/><circle cx="188.1" cy="303.4" r="2.65"/><circle cx="188.3" cy="309.0" r="2.65"/><circle cx="192.3" cy="305.4" r="2.65"/><circle cx="196.3" cy="310.1" r="2.65"/><circle cx="136.4" cy="305.9" r="2.65"/><circle cx="128.5" cy="320.3" r="2.65"/><circle cx="187.6" cy="309.9" r="2.65"/><circle cx="172.6" cy="311.5" r="2.65"/><circle cx="143.3" cy="298.2" r="2.65"/><circle cx="127.4" cy="316.6" r="2.65"/><circle cx="136.3" cy="313.8" r="2.65"/><circle cx="146.0" cy="305.7" r="2.65"/><circle cx="140.7" cy="307.7" r="2.65"/><circle cx="142.9" cy="305.6" r="2.65"/><circle cx="146.1" cy="300.4" r="2.65"/><circle cx="171.2" cy="306.7" r="2.65"/><circle cx="121.6" cy="300.6" r="2.65"/><circle cx="184.3" cy="310.9" r="2.65"/><circle cx="148.3" cy="304.6" r="2.65"/><circle cx="137.3" cy="298.7" r="2.65"/><circle cx="191.9" cy="317.9" r="2.65"/><circle cx="133.4" cy="314.0" r="2.65"/><circle cx="119.1" cy="310.5" r="2.65"/><circle cx="201.6" cy="318.3" r="2.65"/><circle cx="119.4" cy="298.9" r="2.65"/><circle cx="186.3" cy="307.5" r="2.65"/><circle cx="134.6" cy="300.5" r="2.65"/><circle cx="189.3" cy="307.2" r="2.65"/><circle cx="141.0" cy="312.4" r="2.65"/><circle cx="137.1" cy="305.0" r="2.65"/><circle cx="178.1" cy="303.6" r="2.65"/><circle cx="172.8" cy="307.0" r="2.65"/><circle cx="125.8" cy="309.6" r="2.65"/><circle cx="185.5" cy="296.5" r="2.65"/><circle cx="172.1" cy="302.6" r="2.65"/><circle cx="152.3" cy="312.6" r="2.65"/><circle cx="194.2" cy="319.6" r="2.65"/><circle cx="121.1" cy="314.6" r="2.65"/><circle cx="136.4" cy="305.8" r="2.65"/><circle cx="151.1" cy="310.8" r="2.65"/><circle cx="157.9" cy="303.6" r="2.65"/><circle cx="163.9" cy="307.3" r="2.65"/><circle cx="173.6" cy="295.3" r="2.65"/><circle cx="148.4" cy="305.1" r="2.65"/><circle cx="190.2" cy="310.6" r="2.65"/><circle cx="174.9" cy="306.8" r="2.65"/><circle cx="156.1" cy="302.7" r="2.65"/><circle cx="184.4" cy="303.8" r="2.65"/><circle cx="158.0" cy="305.3" r="2.65"/><circle cx="193.8" cy="307.3" r="2.65"/><circle cx="144.5" cy="311.6" r="2.65"/><circle cx="178.4" cy="309.3" r="2.65"/><circle cx="132.2" cy="303.6" r="2.65"/><circle cx="139.9" cy="303.1" r="2.65"/><circle cx="132.6" cy="314.5" r="2.65"/><circle cx="146.7" cy="314.1" r="2.65"/><circle cx="127.6" cy="310.2" r="2.65"/><circle cx="151.5" cy="306.2" r="2.65"/><circle cx="202.1" cy="310.2" r="2.65"/><circle cx="135.6" cy="304.8" r="2.65"/><circle cx="136.4" cy="304.5" r="2.65"/><circle cx="151.8" cy="313.9" r="2.65"/><circle cx="185.8" cy="308.5" r="2.65"/><circle cx="177.6" cy="297.1" r="2.65"/><circle cx="158.1" cy="307.0" r="2.65"/><circle cx="131.0" cy="301.3" r="2.65"/><circle cx="181.6" cy="302.7" r="2.65"/><circle cx="195.7" cy="298.7" r="2.65"/><circle cx="182.3" cy="310.9" r="2.65"/><circle cx="154.6" cy="308.5" r="2.65"/><circle cx="193.4" cy="318.1" r="2.65"/><circle cx="184.4" cy="302.8" r="2.65"/><circle cx="176.4" cy="294.0" r="2.65"/><circle cx="173.2" cy="301.2" r="2.65"/><circle cx="172.1" cy="308.7" r="2.65"/><circle cx="127.3" cy="296.3" r="2.65"/><circle cx="179.3" cy="312.9" r="2.65"/><circle cx="172.2" cy="307.0" r="2.65"/><circle cx="157.5" cy="314.3" r="2.65"/><circle cx="171.5" cy="298.2" r="2.65"/><circle cx="197.6" cy="312.7" r="2.65"/><circle cx="134.5" cy="300.1" r="2.65"/><circle cx="151.8" cy="297.0" r="2.65"/><circle cx="160.4" cy="308.9" r="2.65"/><circle cx="164.9" cy="306.7" r="2.65"/><circle cx="132.6" cy="310.3" r="2.65"/><circle cx="127.5" cy="299.2" r="2.65"/><circle cx="179.6" cy="303.1" r="2.65"/><circle cx="127" cy="297.1" r="2.65"/><circle cx="128.5" cy="320.0" r="2.65"/><circle cx="130.1" cy="297.5" r="2.65"/><circle cx="131.6" cy="320.8" r="2.65"/><circle cx="133.2" cy="296.9" r="2.65"/><circle cx="134.7" cy="320.2" r="2.65"/><circle cx="136.3" cy="296.6" r="2.65"/><circle cx="137.8" cy="320.6" r="2.65"/><circle cx="139.4" cy="296.9" r="2.65"/><circle cx="140.9" cy="320.5" r="2.65"/><circle cx="142.5" cy="296.5" r="2.65"/><circle cx="144.0" cy="320.1" r="2.65"/><circle cx="145.6" cy="296.8" r="2.65"/><circle cx="147.1" cy="321.5" r="2.65"/><circle cx="148.7" cy="296.7" r="2.65"/><circle cx="150.2" cy="321.0" r="2.65"/><circle cx="151.8" cy="296.3" r="2.65"/><circle cx="153.3" cy="321.0" r="2.65"/><circle cx="154.9" cy="296.9" r="2.65"/><circle cx="156.4" cy="320.6" r="2.65"/><circle cx="158.0" cy="292.1" r="2.65"/><circle cx="159.5" cy="321.2" r="2.65"/><circle cx="161.1" cy="291.9" r="2.65"/><circle cx="162.6" cy="320.5" r="2.65"/><circle cx="164.2" cy="293.0" r="2.65"/><circle cx="165.7" cy="320.8" r="2.65"/><circle cx="167.3" cy="291.9" r="2.65"/><circle cx="168.8" cy="320.4" r="2.65"/><circle cx="170.4" cy="292.2" r="2.65"/><circle cx="171.9" cy="321.3" r="2.65"/><circle cx="173.5" cy="291.8" r="2.65"/><circle cx="175.0" cy="320.4" r="2.65"/><circle cx="176.6" cy="292.8" r="2.65"/><circle cx="178.1" cy="320.6" r="2.65"/><circle cx="179.7" cy="292.3" r="2.65"/><circle cx="181.2" cy="320.8" r="2.65"/><circle cx="182.8" cy="291.9" r="2.65"/><circle cx="184.3" cy="320.2" r="2.65"/><circle cx="185.9" cy="292.1" r="2.65"/><circle cx="187.4" cy="320.6" r="2.65"/><circle cx="189.0" cy="297.2" r="2.65"/><circle cx="190.5" cy="320.4" r="2.65"/><circle cx="192.1" cy="296.7" r="2.65"/><circle cx="193.6" cy="321.2" r="2.65"/><circle cx="195.2" cy="296.8" r="2.65"/><circle cx="196.7" cy="321.4" r="2.65"/><circle cx="198.3" cy="297.3" r="2.65"/><circle cx="199.8" cy="321.1" r="2.65"/><circle cx="201.4" cy="297.3" r="2.65"/><circle cx="202.9" cy="321.2" r="2.65"/><circle cx="226.2" cy="153.1" r="2.65"/><circle cx="144.3" cy="195.9" r="2.65"/><circle cx="225.4" cy="226.0" r="2.65"/><circle cx="178.8" cy="249.6" r="2.65"/><circle cx="163.6" cy="242.3" r="2.65"/><circle cx="138.5" cy="248.3" r="2.65"/><circle cx="152.3" cy="259.2" r="2.65"/><circle cx="108.6" cy="262.5" r="2.65"/><circle cx="74.9" cy="238.6" r="2.65"/><circle cx="76.0" cy="250.0" r="2.65"/><circle cx="84.9" cy="257.8" r="2.65"/><circle cx="80.7" cy="260.3" r="2.65"/><circle cx="86.9" cy="269.0" r="2.65"/><circle cx="79.9" cy="272.4" r="2.65"/><circle cx="77.7" cy="272.7" r="2.65"/><circle cx="84.7" cy="278.0" r="2.65"/><circle cx="80.4" cy="280.6" r="2.65"/><circle cx="83.1" cy="282.0" r="2.65"/><circle cx="84.8" cy="283.3" r="2.65"/><circle cx="88.2" cy="284.1" r="2.65"/><circle cx="97.7" cy="284.5" r="2.65"/><circle cx="86.8" cy="291.7" r="2.65"/><circle cx="86.8" cy="295.9" r="2.65"/><circle cx="101.2" cy="338.4" r="2.65"/><circle cx="152.3" cy="259.0" r="2.65"/><circle cx="149.0" cy="264.0" r="2.65"/><circle cx="140.1" cy="265.2" r="2.65"/><circle cx="153.7" cy="273.9" r="2.65"/><circle cx="176.9" cy="278.0" r="2.65"/><circle cx="134.4" cy="279.5" r="2.65"/><circle cx="131.1" cy="282.0" r="2.65"/><circle cx="125.5" cy="285.0" r="2.65"/><circle cx="139.8" cy="283.3" r="2.65"/><circle cx="136.1" cy="287.0" r="2.65"/><circle cx="150.3" cy="282.5" r="2.65"/><circle cx="152.8" cy="282.5" r="2.65"/><circle cx="164.9" cy="286.2" r="2.65"/><circle cx="173.3" cy="284.1" r="2.65"/><circle cx="155.2" cy="290.7" r="2.65"/><circle cx="158.2" cy="290.3" r="2.65"/><circle cx="149.0" cy="294.9" r="2.65"/><circle cx="137.8" cy="292.9" r="2.65"/><circle cx="131.4" cy="294.2" r="2.65"/><circle cx="121.4" cy="294.9" r="2.65"/><circle cx="127.2" cy="331.8" r="2.65"/><circle cx="124.7" cy="326.5" r="2.65"/><circle cx="129.4" cy="326.5" r="2.65"/><circle cx="149.8" cy="326.5" r="2.65"/><circle cx="148.2" cy="322.6" r="2.65"/><circle cx="138.1" cy="322.6" r="2.65"/><circle cx="165.7" cy="327.6" r="2.65"/><circle cx="164.1" cy="330.5" r="2.65"/><circle cx="191.1" cy="287.0" r="2.65"/><circle cx="202.8" cy="325.1" r="2.65"/><circle cx="193.1" cy="329.3" r="2.65"/><circle cx="201.5" cy="331.0" r="2.65"/><circle cx="200.9" cy="336.5" r="2.65"/><circle cx="208.2" cy="341.4" r="2.65"/><circle cx="207.9" cy="280.7" r="2.65"/><circle cx="204.4" cy="287.7" r="2.65"/><circle cx="210.7" cy="285.6" r="2.65"/><circle cx="214.2" cy="289.8" r="2.65"/><circle cx="207.9" cy="293.3" r="2.65"/><circle cx="211.4" cy="294" r="2.65"/><circle cx="213.5" cy="298.2" r="2.65"/><circle cx="214.2" cy="300.9" r="2.65"/><circle cx="230.9" cy="289.8" r="2.65"/><circle cx="227.4" cy="298.9" r="2.65"/><circle cx="230.9" cy="300.9" r="2.65"/><circle cx="221.1" cy="304.4" r="2.65"/><circle cx="218.3" cy="307.2" r="2.65"/><circle cx="217.6" cy="310" r="2.65"/><circle cx="223.9" cy="306.5" r="2.65"/><circle cx="227.4" cy="307.9" r="2.65"/><circle cx="229.5" cy="309.3" r="2.65"/><circle cx="219.7" cy="315.6" r="2.65"/><circle cx="231.6" cy="317" r="2.65"/><circle cx="210" cy="303.7" r="2.65"/><circle cx="210.7" cy="307.9" r="2.65"/><circle cx="210" cy="311.4" r="2.65"/><circle cx="208.6" cy="320.5" r="2.65"/><circle cx="208.2" cy="323.5" r="2.65"/><circle cx="213.5" cy="325.4" r="2.65"/><circle cx="210" cy="326.8" r="2.65"/><circle cx="205.8" cy="328.9" r="2.65"/><circle cx="206.5" cy="300" r="2.65"/><circle cx="207" cy="305" r="2.65"/><circle cx="206.5" cy="310" r="2.65"/><circle cx="207" cy="315" r="2.65"/><circle cx="205.5" cy="296.5" r="2.65"/><circle cx="205.5" cy="319" r="2.65"/><circle cx="201.6" cy="329.6" r="2.65"/><circle cx="202.3" cy="326.1" r="2.65"/><circle cx="96.9" cy="288.2" r="2.65"/><circle cx="95.8" cy="291" r="2.65"/><circle cx="95.3" cy="294.4" r="2.65"/><circle cx="109.2" cy="290.5" r="2.65"/><circle cx="114.3" cy="293.8" r="2.65"/><circle cx="101.4" cy="299.4" r="2.65"/><circle cx="104.2" cy="300" r="2.65"/><circle cx="107.6" cy="301.1" r="2.65"/><circle cx="95.3" cy="301.6" r="2.65"/><circle cx="105.3" cy="306.1" r="2.65"/><circle cx="91.4" cy="308.3" r="2.65"/><circle cx="112" cy="307.2" r="2.65"/><circle cx="113.1" cy="301.6" r="2.65"/><circle cx="115.9" cy="300.5" r="2.65"/><circle cx="118.7" cy="299.4" r="2.65"/><circle cx="117.6" cy="303.3" r="2.65"/><circle cx="114.8" cy="304.4" r="2.65"/><circle cx="104.2" cy="312.3" r="2.65"/><circle cx="100.8" cy="313.9" r="2.65"/><circle cx="98.1" cy="316.7" r="2.65"/><circle cx="96.9" cy="321.8" r="2.65"/><circle cx="98.6" cy="324.5" r="2.65"/><circle cx="96.9" cy="327.9" r="2.65"/><circle cx="108.1" cy="313.4" r="2.65"/><circle cx="111.5" cy="313.9" r="2.65"/><circle cx="114.8" cy="313.4" r="2.65"/><circle cx="117" cy="310" r="2.65"/><circle cx="110.3" cy="319.5" r="2.65"/><circle cx="113.1" cy="322.9" r="2.65"/><circle cx="116.5" cy="324" r="2.65"/><circle cx="107" cy="316.5" r="2.65"/><circle cx="104.5" cy="316" r="2.65"/><circle cx="112.5" cy="316.8" r="2.65"/><circle cx="116" cy="317" r="2.65"/><circle cx="118" cy="320" r="2.65"/><circle cx="115" cy="320.5" r="2.65"/><circle cx="118.5" cy="306.5" r="2.65"/><circle cx="118.5" cy="314" r="2.65"/><circle cx="108.3" cy="292.9" r="2.65"/><circle cx="264.5" cy="283.9" r="2.65"/><circle cx="237.1" cy="287.8" r="2.65"/><circle cx="245.5" cy="296.8" r="2.65"/><circle cx="248.3" cy="302.3" r="2.65"/><circle cx="246.6" cy="304" r="2.65"/><circle cx="238.8" cy="303.5" r="2.65"/><circle cx="238.8" cy="306.3" r="2.65"/><circle cx="239.9" cy="309.6" r="2.65"/><circle cx="238.2" cy="313.5" r="2.65"/><circle cx="242.1" cy="317.4" r="2.65"/><circle cx="272.3" cy="302.9" r="2.65"/><circle cx="272.3" cy="306.3" r="2.65"/><circle cx="280.5" cy="288.9" r="2.65"/><circle cx="281.6" cy="299.6" r="2.65"/></g>
<g stroke="#006400" stroke-width="1.8" fill="none" transform="translate(0 0.25)"><path d="M268.5 63.1H275.9M272.2 59.4V66.8"/><path d="M239.6 124.2H247.0M243.3 120.5V127.9"/><path d="M240.2 125.3H247.6M243.9 121.6V129.0"/><path d="M240.7 135.8H248.1M244.4 132.1V139.5"/><path d="M248.5 133.4H255.9M252.2 129.7V137.1"/><path d="M252.1 132.1H259.5M255.8 128.4V135.8"/><path d="M256.3 139.1H263.7M260.0 135.4V142.8"/><path d="M265.8 144.5H273.2M269.5 140.8V148.2"/><path d="M267.8 145.8H275.2M271.5 142.1V149.5"/><path d="M254.1 152.2H261.5M257.8 148.5V155.9"/><path d="M255.2 153.5H262.6M258.9 149.8V157.2"/><path d="M259.9 151.2H267.3M263.6 147.5V154.9"/><path d="M263.3 149.2H270.7M267.0 145.5V152.9"/><path d="M262.5 154.2H269.9M266.2 150.5V157.9"/><path d="M266.6 155.5H274.0M270.3 151.8V159.2"/><path d="M267.8 157.9H275.2M271.5 154.2V161.6"/><path d="M265.8 160.1H273.2M269.5 156.4V163.8"/><path d="M264.1 163.2H271.5M267.8 159.5V166.9"/><path d="M267.9 161.5H275.3M271.6 157.8V165.2"/><path d="M272.5 158.4H279.9M276.2 154.7V162.1"/><path d="M275.7 159.6H283.1M279.4 155.9V163.3"/><path d="M280.5 154.2H287.9M284.2 150.5V157.9"/><path d="M278.9 168.0H286.3M282.6 164.3V171.7"/><path d="M284.2 173.0H291.6M287.9 169.3V176.7"/><path d="M282.6 175.8H290.0M286.3 172.1V179.5"/><path d="M275.4 177.5H282.8M279.1 173.8V181.2"/><path d="M267.4 181.4H274.8M271.1 177.7V185.1"/><path d="M268.8 182.4H276.2M272.5 178.7V186.1"/><path d="M261.1 191.0H268.5M264.8 187.3V194.7"/><path d="M291.2 192.3H298.6M294.9 188.6V196.0"/><path d="M283.7 198.9H291.1M287.4 195.2V202.6"/><path d="M293.3 216.2H300.7M297.0 212.5V219.9"/><path d="M301.3 220.3H308.7M305.0 216.6V224.0"/><path d="M302.5 221.0H309.9M306.2 217.3V224.7"/><path d="M311.1 229.0H318.5M314.8 225.3V232.7"/><path d="M296.0 234.9H303.4M299.7 231.2V238.6"/><path d="M309.7 237.7H317.1M313.4 234.0V241.4"/><path d="M279.9 234.4H287.3M283.6 230.7V238.1"/><path d="M323.1 250.4H330.5M326.8 246.7V254.1"/><path d="M326.6 255.9H334.0M330.3 252.2V259.6"/><path d="M322.9 255.0H330.3M326.6 251.3V258.7"/><path d="M316.1 256.8H323.5M319.8 253.1V260.5"/><path d="M315.2 261.8H322.6M318.9 258.1V265.5"/><path d="M323.1 272.7H330.5M326.8 269.0V276.4"/><path d="M332.5 267.6H339.9M336.2 263.9V271.3"/><path d="M332.5 270.2H339.9M336.2 266.5V273.9"/><path d="M330.8 276.0H338.2M334.5 272.3V279.7"/><path d="M342.9 273.0H350.3M346.6 269.3V276.7"/><path d="M315.2 294.1H322.6M318.9 290.4V297.8"/><path d="M334.5 301.7H341.9M338.2 298.0V305.4"/><path d="M173.2 169.4H180.6M176.9 165.7V173.1"/><path d="M217.3 218.8H224.7M221.0 215.1V222.5"/></g>
<line x1="38.74" x2="357.2" y1="223.5" y2="223.5" stroke="#586d88" stroke-width="1.3" stroke-dasharray="1.4 3.204"/>
<line x1="38.64" x2="357.2" y1="278.05" y2="278.05" stroke="#ff1414" stroke-width="1.7" stroke-dasharray="1.6 3.004"/>
<rect x="39.4" y="0.7" width="317.8" height="362.1" fill="none" stroke="#000" stroke-width="1.4"/>
<path d="M39.30 362.8v-7.3M39.30 0.7v7.3M54.44 362.8v-4.0M54.44 0.7v4.0M69.59 362.8v-4.0M69.59 0.7v4.0M84.73 362.8v-4.0M84.73 0.7v4.0M99.87 362.8v-4.0M99.87 0.7v4.0M115.02 362.8v-7.3M115.02 0.7v7.3M130.16 362.8v-4.0M130.16 0.7v4.0M145.30 362.8v-4.0M145.30 0.7v4.0M160.44 362.8v-4.0M160.44 0.7v4.0M175.59 362.8v-4.0M175.59 0.7v4.0M190.73 362.8v-7.3M190.73 0.7v7.3M205.87 362.8v-4.0M205.87 0.7v4.0M221.02 362.8v-4.0M221.02 0.7v4.0M236.16 362.8v-4.0M236.16 0.7v4.0M251.30 362.8v-4.0M251.30 0.7v4.0M266.44 362.8v-7.3M266.44 0.7v7.3M281.59 362.8v-4.0M281.59 0.7v4.0M296.73 362.8v-4.0M296.73 0.7v4.0M311.87 362.8v-4.0M311.87 0.7v4.0M327.02 362.8v-4.0M327.02 0.7v4.0M342.16 362.8v-7.3M342.16 0.7v7.3M357.30 362.8v-4.0M357.30 0.7v4.0M39.4 362.75h3.3M357.2 362.75h-3.3M39.4 343.70h3.3M357.2 343.70h-3.3M39.4 324.65h3.3M357.2 324.65h-3.3M39.4 305.60h6.3M357.2 305.60h-6.3M39.4 286.55h3.3M357.2 286.55h-3.3M39.4 267.50h3.3M357.2 267.50h-3.3M39.4 248.45h3.3M357.2 248.45h-3.3M39.4 229.40h3.3M357.2 229.40h-3.3M39.4 210.35h6.3M357.2 210.35h-6.3M39.4 191.30h3.3M357.2 191.30h-3.3M39.4 172.25h3.3M357.2 172.25h-3.3M39.4 153.20h3.3M357.2 153.20h-3.3M39.4 134.15h3.3M357.2 134.15h-3.3M39.4 115.10h6.3M357.2 115.10h-6.3M39.4 96.05h3.3M357.2 96.05h-3.3M39.4 77.00h3.3M357.2 77.00h-3.3M39.4 57.95h3.3M357.2 57.95h-3.3M39.4 38.90h3.3M357.2 38.90h-3.3M39.4 19.85h6.3M357.2 19.85h-6.3M39.4 0.80h3.3M357.2 0.80h-3.3" stroke="#000" stroke-width="1.2" fill="none"/>
<g><text x="39.3" y="378.3" text-anchor="middle">0</text><text x="115.0" y="378.3" text-anchor="middle">5</text><text x="190.7" y="378.3" text-anchor="middle">10</text><text x="266.4" y="378.3" text-anchor="middle">15</text><text x="342.2" y="378.3" text-anchor="middle">20</text><text x="36" y="309.3" text-anchor="end">0.0</text><text x="36" y="214.1" text-anchor="end">0.5</text><text x="36" y="118.8" text-anchor="end">1.0</text><text x="36" y="23.6" text-anchor="end">1.5</text></g>
<text x="198.2" y="391.4" text-anchor="middle">G [mag]</text>
<text transform="translate(9.0 181.2) rotate(-90)" text-anchor="middle">Log (Renormalized unit weight error (RUWE))</text>
<g style="font-size:11px">
<circle cx="65.3" cy="27.1" r="1.2" fill="#0000ff"/>
<text x="72.3" y="30" style="fill:#0000ff;stroke:#0000ff;font-size:11px">All ϖ - N=1342</text>
<circle cx="65.3" cy="45.3" r="2.1" fill="#a0522d"/>
<text x="72.3" y="47.9" style="fill:#a0522d;stroke:#a0522d;font-size:11px" xml:space="preserve">ϖ/σ<tspan dy="4.6" style="font-size:6.4px">ϖ</tspan><tspan dy="-4.6">(ext)&gt; 4  - N=891</tspan></text>
<path d="M62.2 63.5H68.4M65.3 60.4V66.6" stroke="#006400" stroke-width="1.5" fill="none"/>
<text x="72.3" y="66" style="fill:#006400;stroke:#006400;font-size:11px" xml:space="preserve">no BP-RP<tspan x="128.6">N=52</tspan></text>
</g>
</svg>
</body>
</html>
